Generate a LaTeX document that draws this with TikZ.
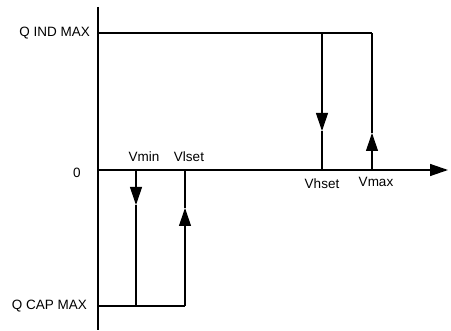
\documentclass[tikz,border=0pt]{standalone}
\usepackage{fontspec}
\setmainfont{Liberation Sans}
\usetikzlibrary{arrows.meta,positioning}

\begin{document}
\begin{tikzpicture}[x=1pt, y=-1pt]
\tikzstyle{axis} = [draw, line width=1.4pt]
\tikzstyle{line} = [draw, line width=1.1pt]
\tikzstyle{tip} = [-{Triangle[length=18pt, width=12pt]}]
\tikzstyle{lbl} = [inner sep=0pt, font=\fontsize{13.5}{16}\selectfont]

\useasboundingbox (0,0) rectangle (451,331);

% points of the characteristic
\coordinate (origin) at (98,170);
\coordinate (ytop) at (98,7);
\coordinate (ybot) at (98,330);
\coordinate (xend) at (448,170);
\coordinate (indmax) at (98,33);
\coordinate (hsettop) at (322,33);
\coordinate (maxtop) at (372,33);
\coordinate (hsetbot) at (322,170);
\coordinate (maxbot) at (372,170);
\coordinate (capmax) at (98,306);
\coordinate (minbot) at (136,306);
\coordinate (lsetbot) at (185,306);
\coordinate (mintop) at (136,170);
\coordinate (lsettop) at (185,170);
\coordinate (hsetmid) at (322,131);
\coordinate (maxmid) at (372,133);
\coordinate (minmid) at (136,205);
\coordinate (lsetmid) at (185,208);

% axes
\path [axis] (ytop) -- (ybot);
\path [axis, tip] (origin) -- (xend);

% inductive side
\path [line] (indmax) -- (maxtop);
\path [line, tip] (hsettop) -- (hsetmid);
\path [line] (hsetmid) -- (hsetbot);
\path [line, tip] (maxbot) -- (maxmid);
\path [line] (maxmid) -- (maxtop);

% capacitive side
\path [line] (capmax) -- (lsetbot);
\path [line, tip] (mintop) -- (minmid);
\path [line] (minmid) -- (minbot);
\path [line, tip] (lsetbot) -- (lsetmid);
\path [line] (lsetmid) -- (lsettop);

% labels
\node [lbl, anchor=east] (qind) at (90,33) {Q IND MAX};
\node [lbl] (zero) at (77,173) {0};
\node [lbl, anchor=east] (qcap) at (87,306) {Q CAP MAX};
\node [lbl] (vmin) at (144,157) {Vmin};
\node [lbl] (vlset) at (189,157) {Vlset};
\node [lbl] (vhset) at (322,184) {Vhset};
\node [lbl] (vmax) at (376,182) {Vmax};

\end{tikzpicture}
\end{document}
